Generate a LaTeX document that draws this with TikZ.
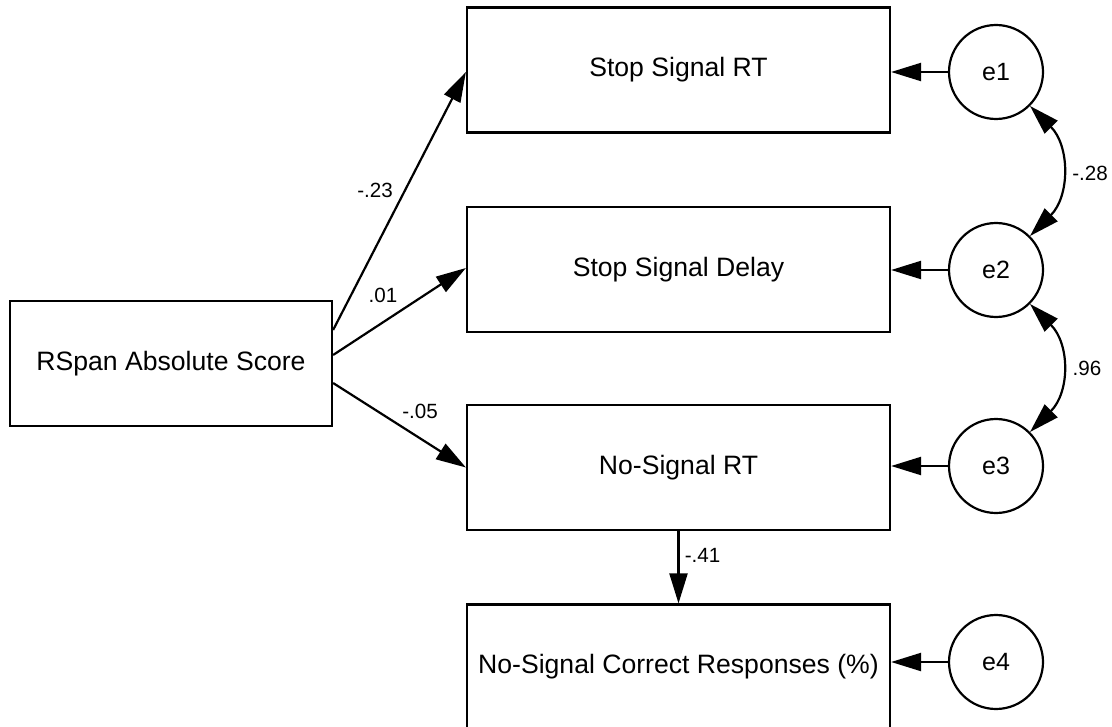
\documentclass[tikz,border=0pt]{standalone}
\usepackage{fontspec}
\setmainfont{Liberation Sans}
\usetikzlibrary{arrows.meta}

\begin{document}
\begin{tikzpicture}[x=0.5pt,y=-0.5pt,
    obs/.style={draw,line width=1.1pt,minimum width=211.5pt,minimum height=62.5pt,inner sep=0pt,
        font=\fontsize{13.3}{16}\selectfont},
    err/.style={draw,circle,line width=1.1pt,minimum size=47pt,inner sep=0pt,
        font=\fontsize{12.5}{15}\selectfont},
    regarrow/.style={line width=1.1pt,-{Triangle[length=15pt,width=9pt]}},
    cov/.style={line width=1.1pt,{Triangle[length=15pt,width=9pt]}-{Triangle[length=15pt,width=9pt]}},
    coef/.style={font=\fontsize{10.3}{12}\selectfont}]
    \useasboundingbox (0,0) rectangle (1112,727);

    % Observed variables
    \node[obs,minimum width=161pt] (rspan) at (171,363.5) {RSpan Absolute Score};
    \node[obs] (ssrt) at (678.5,70) {Stop Signal RT};
    \node[obs] (ssd) at (678.5,269.5) {Stop Signal Delay};
    \node[obs] (nsrt) at (678.5,467.5) {No-Signal RT};
    \node[obs] (nscr) at (678.5,667) {No-Signal Correct Responses (\%)};

    % Error terms
    \node[err] (e1) at (996,72) {e1};
    \node[err] (e2) at (996,270) {e2};
    \node[err] (e3) at (996,466) {e3};
    \node[err] (e4) at (996,662) {e4};

    % Regression paths
    \draw[regarrow] ([yshift=16.75pt]rspan.east) -- ([yshift=-1pt]ssrt.west);
    \draw[regarrow] ([yshift=4.25pt]rspan.east) -- ([yshift=0.75pt]ssd.west);
    \draw[regarrow] ([yshift=-9.75pt]rspan.east) -- (nsrt.west);
    \draw[regarrow] (nsrt.south) -- (nscr.north);

    % Error paths
    \draw[regarrow] (e1.west) -- (e1.west -| ssrt.east);
    \draw[regarrow] (e2.west) -- (e2.west -| ssd.east);
    \draw[regarrow] (e3.west) -- (e3.west -| nsrt.east);
    \draw[regarrow] (e4.west) -- (e4.west -| nscr.east);

    % Covariances
    \draw[cov] (e1.-45) .. controls +(40,40) and +(40,-40) .. (e2.45);
    \draw[cov] (e2.-45) .. controls +(40,40) and +(40,-40) .. (e3.45);

    % Coefficients
    \node[coef] (c1) at (375,190) {-.23};
    \node[coef] (c2) at (383,295) {.01};
    \node[coef] (c3) at (420,411) {-.05};
    \node[coef] (c4) at (702.5,555) {-.41};
    \node[coef] (c5) at (1090,173) {-.28};
    \node[coef] (c6) at (1087,368) {.96};
\end{tikzpicture}
\end{document}
